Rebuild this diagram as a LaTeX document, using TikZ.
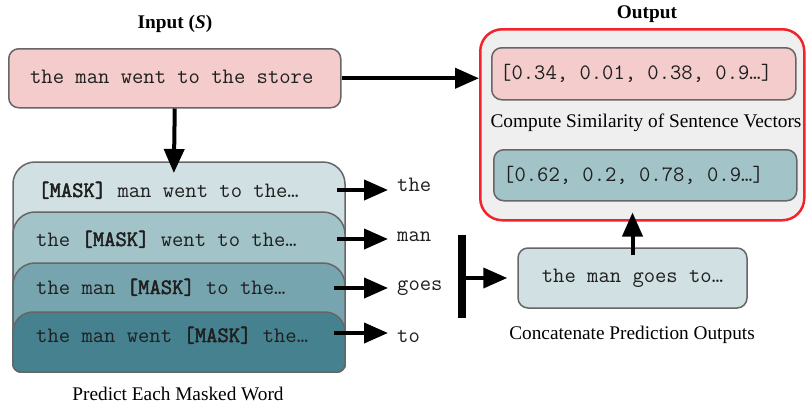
\documentclass[tikz,border=0pt]{standalone}
\usepackage{fontspec}
\setmainfont{Liberation Serif}
\setmonofont{Latin Modern Mono}[BoldFont={Latin Modern Mono}, BoldFeatures={FakeBold=2.2}]
\usetikzlibrary{arrows.meta}
\definecolor{pinkf}{HTML}{F4CCCC}
\definecolor{cyanc}{HTML}{D0E0E3}
\definecolor{cyanb}{HTML}{A2C4C9}
\definecolor{cyana}{HTML}{76A5AF}
\definecolor{cyand}{HTML}{45818E}
\definecolor{bord}{HTML}{666666}
\definecolor{outbg}{HTML}{EFEFEF}
\definecolor{outred}{HTML}{F2232B}
\begin{document}
\begin{tikzpicture}[x=1pt,y=-1pt,
  fs/.style={font=\fontsize{19.3}{22}\selectfont},
  fsb/.style={font=\fontsize{19.3}{22}\selectfont\bfseries},
  mono/.style={font=\fontsize{22}{24}\selectfont\ttfamily, text=black!88},
  box/.style={draw=bord, line width=1.5pt, rounded corners=10pt, inner sep=0pt},
  stackbox/.style={draw=bord, line width=1.5pt},
  arr/.style={line width=4pt, -{Triangle[length=24pt,width=20pt]}},
  lab/.style={mono, anchor=base west, inner xsep=9pt, inner ysep=0pt},
  ]
\useasboundingbox (0,0) rectangle (806,405);

% ---- input ----
\node[fsb] (tin) at (175,24) {Input (\textit{S})};
\node[box, fill=pinkf, minimum width=332pt, minimum height=59pt, anchor=north west] (inp) at (8,48) {};
\node[mono] (inptxt) at ([xshift=-3pt,yshift=1pt]inp.center) {the man went to the store};

% ---- output ----
\node[fsb] (tout) at (647,14) {Output};
\node[draw=outred, line width=2.5pt, fill=outbg, rounded corners=22pt, minimum width=324pt, minimum height=191pt, anchor=north west, inner sep=0pt] (outb) at (479,28) {};
\node[box, fill=pinkf, minimum width=304pt, minimum height=52pt, anchor=north west] (v1) at (491,47) {};
\node[mono, anchor=west, inner sep=0pt] (v1t) at ([xshift=9pt]v1.west) {[0.34, 0.01, 0.38, 0.9…]};
\node[fs] (sim) at (646,123) {Compute Similarity of Sentence Vectors};
\node[box, fill=cyanb, minimum width=303pt, minimum height=51pt, anchor=north west] (v2) at (493,149) {};
\node[mono, anchor=west, inner sep=0pt] (v2t) at ([xshift=10pt]v2.west) {[0.62, 0.2, 0.78, 0.9…]};

% ---- stack ----
\path[stackbox, fill=cyanc] (13,345) [rounded corners=22pt] -- (13,162) -- (345,162) -- (345,345) [rounded corners=8pt] -- (345,372) -- (13,372) -- cycle;
\path[stackbox, fill=cyanb] (13,345) [rounded corners=22pt] -- (13,212) -- (345,212) -- (345,345) [rounded corners=8pt] -- (345,372) -- (13,372) -- cycle;
\path[stackbox, fill=cyana] (13,345) [rounded corners=22pt] -- (13,263) -- (345,263) -- (345,345) [rounded corners=8pt] -- (345,372) -- (13,372) -- cycle;
\path[stackbox, fill=cyand] (13,345) [rounded corners=20pt] -- (13,312) -- (345,312) -- (345,345) [rounded corners=8pt] -- (345,372) -- (13,372) -- cycle;
\node[mono, anchor=base west, inner sep=0pt] (m1) at (38,197) {\textbf{[MASK]} man went to the…};
\node[mono, anchor=base west, inner sep=0pt] (m2) at (36,246) {the \textbf{[MASK]} went to the…};
\node[mono, anchor=base west, inner sep=0pt] (m3) at (36,294) {the man \textbf{[MASK]} to the…};
\node[mono, anchor=base west, inner sep=0pt] (m4) at (36,342) {the man went \textbf{[MASK]} the…};
\node[fs] (pred) at (178,394) {Predict Each Masked Word};

% ---- predictions ----
\node[lab] (l1) at (388,191) {the};
\node[lab] (l2) at (388,241) {man};
\node[lab] (l3) at (388,290) {goes};
\node[lab] (l4) at (388,342) {to};
\coordinate (a1) at (337,190);
\coordinate (a2) at (337,239);
\coordinate (a3) at (334,288);
\coordinate (a4) at (334,333);
\draw[arr] (a1) -- (a1 -| l1.west);
\draw[arr] (a2) -- (a2 -| l2.west);
\draw[arr] (a3) -- (a3 -| l3.west);
\draw[arr] (a4) -- (a4 -| l4.west);

% ---- concatenation ----
\coordinate (bt) at (462,235);
\coordinate (bb) at (462,318);
\coordinate (bm) at (462,278);
\draw[line width=8pt] (bt) -- (bb);
\node[box, fill=cyanc, mono, minimum width=229pt, minimum height=60pt] (cat) at (632.5,278) {the man goes to…};
\node[fs] (catl) at (632,335) {Concatenate Prediction Outputs};
\draw[arr, shorten >=10pt] (bm) -- (bm -| cat.west);

% ---- main arrows ----
\coordinate (stk) at (174,162);
\draw[arr] (inp.east) -- (inp.east -| outb.west);
\draw[arr, shorten >=-11pt] (inp.south) -- (stk);
\draw[arr, shorten >=-9pt] ([yshift=-8pt]cat.north) -- (cat.north |- outb.south);
\end{tikzpicture}
\end{document}
